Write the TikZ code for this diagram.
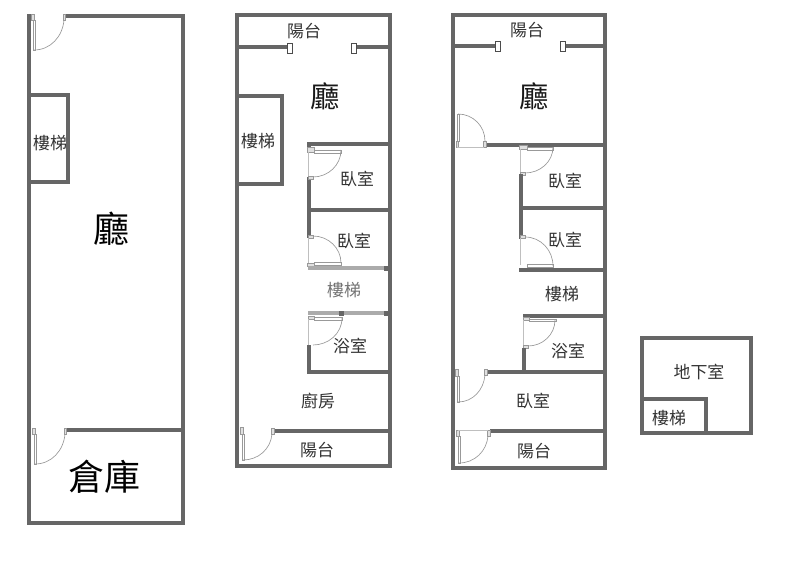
\documentclass[tikz,border=0pt]{standalone}
\usepackage{fontspec}
\setmainfont{Noto Sans CJK TC}
\usepackage{xcolor}
\definecolor{wallgray}{HTML}{666666}
\definecolor{fadegray}{HTML}{ABABAB}
\definecolor{doorgray}{HTML}{999999}

\begin{document}
\begin{tikzpicture}[x=0.75pt, y=-0.75pt]
    \tikzstyle{wall} = [draw=wallgray, line width=3.5pt, line cap=rect, line join=miter]
    \tikzstyle{thinwall} = [draw=wallgray, line width=3.2pt, line cap=rect, line join=miter]
    \tikzstyle{fadewall} = [draw=fadegray, line width=3.2pt]
    \tikzstyle{leaf} = [draw=doorgray, fill=white, line width=0.5pt]
    \tikzstyle{jamb} = [draw=doorgray, fill=black!12, line width=0.5pt]
    \tikzstyle{post} = [draw=black!70, fill=white, line width=0.5pt]
    \tikzstyle{swing} = [draw=doorgray, line width=0.5pt]
    \tikzstyle{sill} = [draw=black!25, line width=0.4pt]
    \tikzstyle{label} = [text=black!80, font=\fontsize{12.7pt}{14pt}\selectfont, inner sep=0pt]
    \tikzstyle{biglabel} = [text=black!90, font=\fontsize{22pt}{24pt}\selectfont, inner sep=0pt]
    \tikzstyle{hugelabel} = [text=black, font=\fontsize{27pt}{29pt}\selectfont, inner sep=0pt]

    \useasboundingbox (0,0) rectangle (797,575);

    % Plan 1
    \draw[wall] (66,16) -- (183,16) -- (183,523) -- (29,523) -- (29,16);
    \draw[thinwall] (66,430) -- (183,430);
    \draw[wall] (29,95) -- (68,95) -- (68,182) -- (29,182);
    \draw[leaf] (33,20) rectangle (35,50);
    \draw[jamb] (31,14) rectangle (34,20);
    \draw[jamb] (63,14) rectangle (65,20);
    \draw[swing] (34,50) to[out=0, in=265] (64,20);
    \draw[leaf] (34,434) rectangle (36,464);
    \draw[jamb] (32,428) rectangle (35,434);
    \draw[jamb] (64,428) rectangle (66,434);
    \draw[swing] (35,464) to[out=0, in=265] (65,434);

    \node[label] (stairA) at (50,143) {樓梯};
    \node[hugelabel] (hallA) at (111,229) {廳};
    \node[hugelabel] (storeA) at (104,477) {倉庫};

    % Plan 2
    \draw[wall] (237,15) rectangle (390,466);
    \draw[thinwall] (237,47) -- (287,47);
    \draw[thinwall] (357,47) -- (390,47);
    \draw[post] (287,43) rectangle (292,53);
    \draw[post] (351,43) rectangle (356,53);
    \draw[wall] (237,96) -- (282,96) -- (282,184) -- (237,184);
    \draw[thinwall] (390,144) -- (309,144) -- (309,148);
    \draw[wall] (309,179) -- (309,236);
    \draw[thinwall] (309,210) -- (390,210);
    \draw[leaf] (314,150) rectangle (341,153);
    \draw[jamb] (307,147) rectangle (314,152);
    \draw[jamb] (308,176) rectangle (313,179);
    \draw[sill] (308,152) -- (308,176);
    \draw[swing] (341,150) to[out=270, in=0] (313,177);
    \draw[leaf] (314,262) rectangle (341,265);
    \draw[jamb] (307,263) rectangle (314,266);
    \draw[jamb] (308,235) rectangle (313,238);
    \draw[sill] (308,238) -- (308,263);
    \draw[swing] (341,263) to[out=90, in=0] (313,236);
    \draw[fadewall] (308,268) -- (390,268);
    \fill[wallgray] (384,266) rectangle (390,271);
    \draw[fadewall] (308,313) -- (390,313);
    \fill[wallgray] (339,311) rectangle (344,316);
    \fill[wallgray] (384,311) rectangle (390,316);
    \draw[leaf] (314,317) rectangle (342,320);
    \draw[jamb] (308,316) rectangle (314,319);
    \draw[sill] (308,319) -- (308,345);
    \draw[swing] (342,318) to[out=270, in=0] (313,345);
    \draw[wall] (309,347) -- (309,372) -- (390,372);
    \draw[thinwall] (275,431) -- (390,431);
    \draw[leaf] (242,434) rectangle (244,460);
    \draw[jamb] (240,427) rectangle (243,434);
    \draw[jamb] (271,428) rectangle (274,434);
    \draw[swing] (243,460) to[out=0, in=265] (272,434);

    \node[label] (balconyB) at (304,31) {陽台};
    \node[biglabel] (hallB) at (325,96) {廳};
    \node[label] (stairB) at (258,141) {樓梯};
    \node[label] (bedB) at (357,179) {臥室};
    \node[label] (bedC) at (354,241) {臥室};
    \node[label, text=black!55] (stairC) at (344,290) {樓梯};
    \node[label] (bathB) at (350,346) {浴室};
    \node[label] (kitchenB) at (318,401) {廚房};
    \node[label] (balconyC) at (317,450) {陽台};

    % Plan 3
    \draw[wall] (453,15) rectangle (605,468);
    \draw[thinwall] (453,46) -- (496,46);
    \draw[thinwall] (564,46) -- (605,46);
    \draw[post] (495,41) rectangle (500,51);
    \draw[post] (560,41) rectangle (565,51);
    \draw[thinwall] (487,145) -- (605,145);
    \draw[leaf] (457,114) rectangle (459,141);
    \draw[jamb] (456,141) rectangle (458,147);
    \draw[jamb] (483,141) rectangle (486,147);
    \draw[sill] (457,147) -- (484,147);
    \draw[swing] (458,114) to[out=0, in=90] (485,141);
    \draw[leaf] (527,147) rectangle (553,150);
    \draw[jamb] (519,145) rectangle (527,149);
    \draw[jamb] (520,172) rectangle (525,175);
    \draw[sill] (520,149) -- (520,172);
    \draw[swing] (553,147) to[out=270, in=0] (525,173);
    \draw[wall] (521,176) -- (521,237);
    \draw[thinwall] (521,208) -- (605,208);
    \draw[leaf] (527,264) rectangle (553,267);
    \draw[jamb] (520,235) rectangle (525,238);
    \draw[sill] (520,238) -- (520,265);
    \draw[swing] (553,266) to[out=90, in=0] (525,237);
    \draw[thinwall] (521,270) -- (605,270);
    \draw[thinwall] (525,316) -- (605,316);
    \draw[leaf] (529,319) rectangle (556,321);
    \draw[jamb] (523,317) rectangle (529,320);
    \draw[jamb] (523,345) rectangle (528,348);
    \draw[sill] (523,320) -- (523,345);
    \draw[swing] (555,320) to[out=270, in=0] (528,346);
    \draw[wall] (524,350) -- (524,372);
    \draw[thinwall] (488,372) -- (605,372);
    \draw[leaf] (457,376) rectangle (459,402);
    \draw[jamb] (455,369) rectangle (458,376);
    \draw[jamb] (484,369) rectangle (487,375);
    \draw[swing] (458,402) to[out=0, in=265] (485,375);
    \draw[thinwall] (492,431) -- (605,431);
    \draw[leaf] (458,436) rectangle (460,463);
    \draw[jamb] (456,430) rectangle (459,436);
    \draw[jamb] (487,430) rectangle (490,436);
    \draw[sill] (458,430) -- (488,430);
    \draw[swing] (459,463) to[out=0, in=265] (488,436);

    \node[label] (balconyD) at (527,30) {陽台};
    \node[biglabel] (hallD) at (534,96) {廳};
    \node[label] (bedD) at (565,181) {臥室};
    \node[label] (bedE) at (565,240) {臥室};
    \node[label] (stairD) at (562,294) {樓梯};
    \node[label] (bathD) at (568,351) {浴室};
    \node[label] (bedF) at (533,401) {臥室};
    \node[label] (balconyE) at (534,451) {陽台};

    % Plan 4
    \draw[wall] (642,338) rectangle (751,433);
    \draw[wall] (642,399) -- (706,399) -- (706,433);

    \node[label] (cellar) at (699,372) {地下室};
    \node[label] (stairE) at (669,418) {樓梯};
\end{tikzpicture}
\end{document}
